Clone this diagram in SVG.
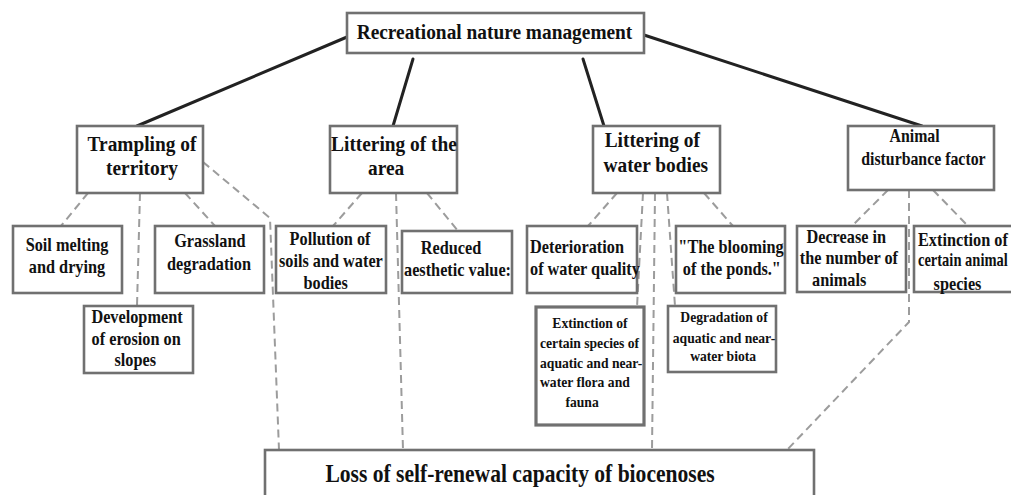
<svg xmlns="http://www.w3.org/2000/svg" width="1011" height="495" viewBox="0 0 1011 495">
<style>
.box{fill:#fff;stroke:#707070;stroke-width:2.6}
.solid{fill:none;stroke:#222;stroke-width:3;stroke-linecap:round}
.dash{fill:none;stroke:#9c9c9c;stroke-width:2;stroke-dasharray:8 5}
text{font-family:"Liberation Serif","Times New Roman",serif;font-weight:bold;fill:#111}
.h{font-size:22px}
.a{font-size:18px}
.m{font-size:18.5px}
.s{font-size:15.5px}
.b{font-size:24.5px}
.c{text-anchor:middle}
</style>
<defs>
<clipPath id="clipReduced"><rect x="402" y="231" width="110" height="62"/></clipPath>
</defs>
<g id="connectors">
<line class="solid" x1="347" y1="37" x2="137" y2="126"/>
<line class="solid" x1="413" y1="59" x2="393" y2="126"/>
<line class="solid" x1="583" y1="59" x2="604" y2="126"/>
<line class="solid" x1="644" y1="35" x2="922" y2="126"/>
<line class="dash" x1="88" y1="193" x2="61" y2="226"/>
<line class="dash" x1="140" y1="193" x2="137" y2="306"/>
<line class="dash" x1="185" y1="193" x2="215" y2="226"/>
<polyline class="dash" points="203,162 270,218 279,450"/>
<line class="dash" x1="362" y1="193" x2="333" y2="226"/>
<line class="dash" x1="396" y1="193" x2="403" y2="450"/>
<line class="dash" x1="427" y1="193" x2="458" y2="231"/>
<line class="dash" x1="617" y1="193" x2="588" y2="226"/>
<line class="dash" x1="643" y1="193" x2="637" y2="307"/>
<line class="dash" x1="655" y1="193" x2="652" y2="450"/>
<line class="dash" x1="667" y1="193" x2="675" y2="306"/>
<line class="dash" x1="704" y1="193" x2="733" y2="226"/>
<line class="dash" x1="888" y1="190" x2="852" y2="226"/>
<line class="dash" x1="933" y1="190" x2="968" y2="226"/>
<polyline class="dash" points="909,190 909,322 787,450"/>
</g>
<g id="n-top">
<rect class="box" x="347" y="13" width="297" height="40"/>
<g transform="translate(494.5,0) scale(0.88,1)"><text class="h c" x="0" y="39">Recreational nature management</text></g>
</g>
<g id="n-trampling">
<rect class="box" x="77" y="126" width="126" height="67"/>
<g transform="translate(142,0) scale(0.88,1)"><text class="h c" x="0" y="151">Trampling of</text><text class="h c" x="0" y="175">territory</text></g>
</g>
<g id="n-littering-area">
<rect class="box" x="330" y="126" width="127" height="67"/>
<g transform="translate(394,0) scale(0.88,1)"><text class="h c" x="0" y="151">Littering of the</text><text class="h c" x="-9" y="175">area</text></g>
</g>
<g id="n-littering-water">
<rect class="box" x="593" y="126" width="127" height="67"/>
<g transform="translate(654,0) scale(0.88,1)"><text class="h c" x="-2" y="147">Littering of</text><text class="h c" x="2" y="172">water bodies</text></g>
</g>
<g id="n-animal">
<rect class="box" x="848" y="126" width="146" height="64"/>
<g transform="translate(919,0) scale(0.88,1)"><text class="a c" x="-5" y="142">Animal</text><text class="a c" x="5" y="165">disturbance factor</text></g>
</g>
<g id="n-soil">
<rect class="box" x="13" y="226" width="109" height="67"/>
<g transform="translate(67,0) scale(0.88,1)"><text class="m c" x="0" y="251">Soil melting</text><text class="m c" x="0" y="273">and drying</text></g>
</g>
<g id="n-grass">
<rect class="box" x="155" y="226" width="109" height="67"/>
<g transform="translate(209,0) scale(0.88,1)"><text class="m c" x="1" y="247">Grassland</text><text class="m c" x="0" y="270">degradation</text></g>
</g>
<g id="n-development">
<rect class="box" x="84" y="306" width="109" height="67"/>
<g transform="translate(137,0) scale(0.88,1)"><text class="m c" x="0" y="323">Development</text><text class="m c" x="-1" y="345">of erosion on</text><text class="m c" x="-2" y="366">slopes</text></g>
</g>
<g id="n-pollution">
<rect class="box" x="276" y="226" width="110" height="67"/>
<g transform="translate(330,0) scale(0.88,1)"><text class="m c" x="0" y="245">Pollution of</text><text class="m c" x="1" y="267">soils and water</text><text class="m c" x="-5" y="289">bodies</text></g>
</g>
<g id="n-reduced">
<rect class="box" x="402" y="231" width="110" height="62"/>
<g clip-path="url(#clipReduced)">
<g transform="translate(451,0) scale(0.88,1)"><text class="m c" x="0" y="254">Reduced</text></g>
<g transform="translate(404,0) scale(0.88,1)"><text class="m" x="0" y="276">aesthetic value:</text></g>
</g>
</g>
<g id="n-deterioration">
<rect class="box" x="527" y="226" width="110" height="67"/>
<g transform="translate(530,0) scale(0.88,1)"><text class="m" x="0" y="253">Deterioration</text><text class="m" x="0" y="275">of water quality</text></g>
</g>
<g id="n-blooming">
<rect class="box" x="676" y="226" width="109" height="67"/>
<g transform="translate(731,0) scale(0.88,1)"><text class="m c" x="0" y="253">"The blooming</text><text class="m c" x="1" y="275">of the ponds."</text></g>
</g>
<g id="n-decrease">
<rect class="box" x="797" y="226" width="109" height="66"/>
<g transform="translate(848,0) scale(0.88,1)"><text class="m c" x="-2" y="243">Decrease in</text><text class="m c" x="1" y="264">the number of</text><text class="m c" x="-10" y="286">animals</text></g>
</g>
<g id="n-extinction-animals">
<rect class="box" x="914" y="226" width="110" height="66"/>
<g transform="translate(918,0) scale(0.88,1)"><text class="m" x="0" y="246">Extinction of</text><text class="m" x="0" y="266" textLength="102" lengthAdjust="spacingAndGlyphs">certain animal</text></g>
<g transform="translate(957.5,0) scale(0.88,1)"><text class="m c" x="0" y="290">species</text></g>
</g>
<g id="n-extinction-species">
<rect class="box" x="536" y="307" width="108" height="118" style="stroke-width:3.2"/>
<g transform="translate(590,0) scale(0.88,1)"><text class="s c" x="0" y="328">Extinction of</text><text class="s c" x="-9" y="407">fauna</text></g>
<g transform="translate(540,0) scale(0.88,1)"><text class="s" x="0" y="348">certain species of</text><text class="s" x="0" y="368">aquatic and near-</text><text class="s" x="0" y="387">water flora and</text></g>
</g>
<g id="n-degradation">
<rect class="box" x="668" y="306" width="108" height="66"/>
<g transform="translate(724,0) scale(0.88,1)"><text class="s c" x="0" y="322">Degradation of</text><text class="s c" x="0" y="343">aquatic and near-</text><text class="s c" x="-1" y="361">water biota</text></g>
</g>
<g id="n-loss">
<rect class="box" x="265" y="450" width="549" height="60"/>
<g transform="translate(520,0) scale(0.88,1)"><text class="b c" x="0" y="482">Loss of self-renewal capacity of biocenoses</text></g>
</g>
</svg>
